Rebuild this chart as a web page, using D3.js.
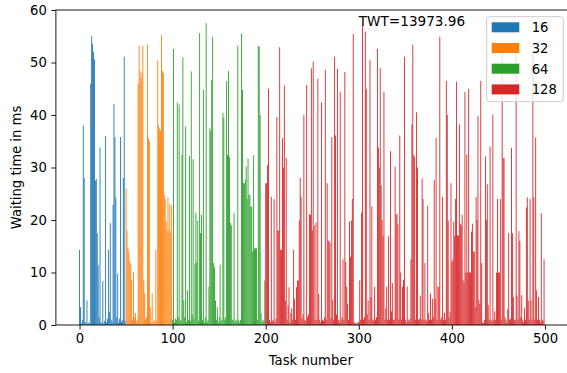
<!DOCTYPE html>
<html>
<head>
<meta charset="utf-8">
<script src="https://cdn.jsdelivr.net/npm/d3@7"></script>
<style>
  body { margin: 0; background: #fff; }
  svg { display: block; font-family: "DejaVu Sans", sans-serif; }
</style>
</head>
<body>
<svg id="chart" width="567" height="373"></svg>
<script>
// series = thread counts, each one covers a run of task numbers
const seriesLabels = ['16', '32', '64', '128'];
const seriesColors = ['#1f77b4', '#ff7f0e', '#2ca02c', '#d62728'];
const taskStart = [0, 50, 100, 200];
const xTicks = [0, 100, 200, 300, 400, 500];
const yTicks = [0, 10, 20, 30, 40, 50, 60];
const twtText = 'TWT=13973.96';

// waiting time in ms, task 0..49
const wait16 = [
  14.3, 3.4, 0.3, 1.0, 38.0, 28.0, 0.6, 0.4, 4.7, 0.2,
  0.5, 0.3, 46.0, 55.0, 53.5, 52.0, 50.6, 27.5, 27.8, 17.5,
  11.4, 1.5, 33.8, 0.6, 0.4, 8.4, 0.3, 0.8, 36.0, 0.5,
  1.2, 14.3, 2.5, 19.4, 1.0, 0.7, 22.9, 42.1, 35.8, 24.3,
  1.5, 9.8, 0.5, 1.2, 35.8, 0.6, 0.9, 28.0, 51.1, 0.8,
];
// task 50..99
const wait32 = [
  26.0, 18.0, 14.6, 14.0, 12.2, 11.5, 8.5, 1.0, 10.0, 1.5,
  2.3, 0.5, 1.0, 46.0, 53.2, 48.4, 47.0, 48.0, 53.2, 8.5,
  6.0, 1.0, 1.5, 53.4, 35.6, 35.0, 3.4, 0.5, 6.0, 0.4,
  0.8, 1.0, 14.3, 0.6, 50.4, 38.0, 37.4, 37.0, 55.2, 48.4,
  48.0, 24.8, 24.0, 19.7, 17.9, 24.3, 18.0, 23.1, 17.5, 22.8,
];
// task 100..199
const wait64 = [
  1.0, 52.6, 0.5, 1.2, 1.0, 42.4, 1.5, 42.0, 0.8, 1.0,
  32.4, 51.0, 4.7, 1.5, 37.8, 0.5, 6.6, 1.0, 32.2, 0.8,
  48.3, 2.0, 31.6, 1.2, 11.7, 21.4, 12.0, 19.9, 0.8, 55.6,
  17.5, 21.0, 1.0, 44.8, 0.5, 1.5, 57.5, 0.6, 1.0, 7.3,
  37.6, 37.0, 46.7, 54.9, 11.8, 11.0, 4.7, 1.0, 3.4, 0.5,
  1.5, 11.5, 0.8, 1.0, 40.4, 39.5, 1.0, 1.5, 46.5, 32.4,
  48.4, 32.0, 19.5, 19.0, 1.0, 1.0, 21.4, 0.6, 1.0, 0.8,
  53.2, 1.0, 0.5, 1.0, 55.5, 44.8, 27.0, 27.0, 27.7, 30.2,
  24.0, 31.7, 24.8, 24.8, 22.6, 22.6, 14.0, 32.3, 14.6, 14.6,
  14.6, 1.0, 53.2, 53.0, 40.0, 2.3, 0.5, 1.0, 0.8, 8.5,
];
// task 200..499
const wait128 = [
  27.0, 27.0, 30.5, 45.0, 1.0, 0.5, 24.4, 0.8, 1.0, 24.0,
  0.5, 1.2, 39.6, 18.0, 18.0, 52.9, 14.3, 14.3, 35.6, 30.0,
  45.6, 4.7, 31.8, 1.0, 3.8, 7.2, 0.5, 2.3, 3.2, 1.0,
  14.3, 5.0, 1.0, 7.2, 8.5, 8.5, 19.9, 28.0, 24.4, 1.2,
  2.0, 40.0, 1.0, 0.8, 45.7, 1.5, 2.0, 21.1, 21.0, 48.9,
  18.0, 50.2, 19.0, 1.0, 19.5, 1.0, 46.9, 5.9, 1.0, 0.5,
  42.4, 1.0, 0.8, 1.5, 48.6, 1.0, 27.0, 16.1, 16.0, 15.7,
  1.2, 35.8, 4.7, 1.0, 51.1, 36.1, 2.0, 48.8, 1.0, 0.6,
  44.4, 1.0, 1.5, 12.5, 1.0, 48.2, 12.0, 7.3, 4.0, 1.0,
  19.7, 13.0, 19.9, 24.0, 55.4, 0.5, 0.3, 0.4, 0.2, 0.5,
  0.6, 8.5, 1.0, 21.4, 57.1, 1.0, 1.5, 55.9, 45.0, 2.0,
  4.7, 1.0, 50.5, 5.3, 22.6, 1.0, 0.8, 7.3, 1.0, 1.5,
  52.6, 33.8, 30.0, 48.9, 26.6, 20.0, 16.9, 44.4, 1.0, 3.2,
  7.3, 1.0, 16.9, 1.0, 33.1, 2.6, 8.0, 1.0, 1.0, 30.2,
  21.0, 21.2, 19.2, 1.0, 36.1, 10.0, 1.0, 7.3, 8.6, 51.1,
  1.0, 0.5, 7.3, 1.0, 0.8, 1.2, 12.5, 38.2, 53.4, 32.4,
  32.0, 1.0, 40.5, 30.0, 1.0, 1.2, 5.6, 1.0, 27.9, 24.0,
  1.0, 11.8, 1.0, 0.8, 22.7, 2.3, 1.0, 6.0, 1.0, 5.0,
  1.5, 27.6, 5.0, 35.6, 1.0, 7.3, 7.3, 54.9, 1.0, 1.5,
  24.4, 1.0, 2.3, 1.0, 46.5, 40.0, 19.9, 1.5, 2.5, 27.0,
  12.0, 12.5, 19.7, 17.0, 24.0, 46.3, 17.1, 17.0, 38.2, 19.3,
  19.0, 21.0, 8.6, 8.0, 44.4, 10.0, 32.4, 10.0, 45.0, 10.0,
  10.0, 17.8, 19.3, 14.0, 14.0, 3.4, 24.4, 20.0, 39.8, 4.7,
  4.0, 46.5, 11.8, 0.5, 0.3, 1.0, 32.1, 20.0, 26.8, 3.8,
  1.0, 34.0, 1.0, 0.8, 40.1, 1.0, 2.6, 1.0, 10.0, 24.0,
  10.0, 10.0, 24.0, 1.0, 52.0, 31.8, 31.8, 1.5, 1.0, 0.5,
  3.0, 17.5, 1.0, 1.2, 33.7, 17.5, 5.3, 1.0, 1.0, 51.5,
  5.6, 1.0, 17.9, 16.0, 1.5, 5.7, 1.0, 0.5, 3.2, 1.0,
  22.4, 24.3, 4.7, 1.0, 24.0, 4.7, 1.0, 51.5, 24.3, 1.0,
  35.7, 6.6, 1.0, 5.3, 1.0, 0.5, 21.3, 1.0, 0.8, 12.5,
];
const seriesValues = [wait16, wait32, wait64, wait128];

const FONT = 13.2;
const svg = d3.select('#chart');
const plot = { left: 55.9, right: 567.7, top: 10, bottom: 325 };

const x = d3.scaleLinear().domain([-25.39, 524.39]).range([plot.left, plot.right]);
const y = d3.scaleLinear().domain([0, 60]).range([plot.bottom, plot.top]);
const barW = x(0.95) - x(0);

const bars = seriesValues.map((vals, s) =>
  vals.map((v, i) => ({ task: taskStart[s] + i, value: v, series: s })),
);

const gBars = svg.append('g');
bars.forEach((data, s) => {
  gBars.append('g')
    .attr('fill', seriesColors[s])
    .selectAll('rect')
    .data(data)
    .join('rect')
    .attr('x', (d) => x(d.task - 0.475))
    .attr('width', barW)
    .attr('y', (d) => y(d.value))
    .attr('height', (d) => y(0) - y(d.value));
});

// axes
const xAxis = svg.append('g')
  .attr('transform', `translate(0,${plot.bottom})`)
  .call(d3.axisBottom(x).tickValues(xTicks).tickSize(4.6).tickPadding(4.4));
const yAxis = svg.append('g')
  .attr('transform', `translate(${plot.left},0)`)
  .call(d3.axisLeft(y).tickValues(yTicks).tickSize(4.6).tickPadding(4.4));
[xAxis, yAxis].forEach((a) => {
  a.select('.domain').remove();
  a.selectAll('line').attr('stroke', '#000').attr('stroke-width', 0.9);
  a.selectAll('text').attr('font-size', FONT).attr('fill', '#000')
    .attr('font-family', '"DejaVu Sans", sans-serif');
});

svg.append('rect')
  .attr('x', plot.left).attr('y', plot.top)
  .attr('width', plot.right - plot.left).attr('height', plot.bottom - plot.top)
  .attr('fill', 'none').attr('stroke', '#000').attr('stroke-width', 0.9);

svg.append('text')
  .attr('x', (plot.left + plot.right) / 2 - 1).attr('y', 365)
  .attr('text-anchor', 'middle').attr('font-size', FONT)
  .text('Task number');
svg.append('text')
  .attr('transform', `translate(20.5,${(plot.top + plot.bottom) / 2}) rotate(-90)`)
  .attr('text-anchor', 'middle').attr('font-size', FONT)
  .text('Waiting time in ms');

svg.append('text')
  .attr('x', x(300)).attr('y', y(57))
  .attr('font-size', 13.6).attr('fill', '#000')
  .text(twtText);

// legend
const lg = svg.append('g').attr('transform', 'translate(486.7,16.7)');
lg.append('rect')
  .attr('width', 76.6).attr('height', 85).attr('rx', 3)
  .attr('fill', '#fff').attr('fill-opacity', 0.8)
  .attr('stroke', '#cccccc').attr('stroke-width', 1);
seriesLabels.forEach((lab, i) => {
  const row = lg.append('g').attr('transform', `translate(0,${10.6 + i * 20.7})`);
  row.append('rect')
    .attr('x', 5).attr('y', -5).attr('width', 27.6).attr('height', 10)
    .attr('fill', seriesColors[i]);
  row.append('text')
    .attr('x', 45).attr('y', 4.8)
    .attr('font-size', FONT).attr('fill', '#000')
    .text(lab);
});
</script>
</body>
</html>
